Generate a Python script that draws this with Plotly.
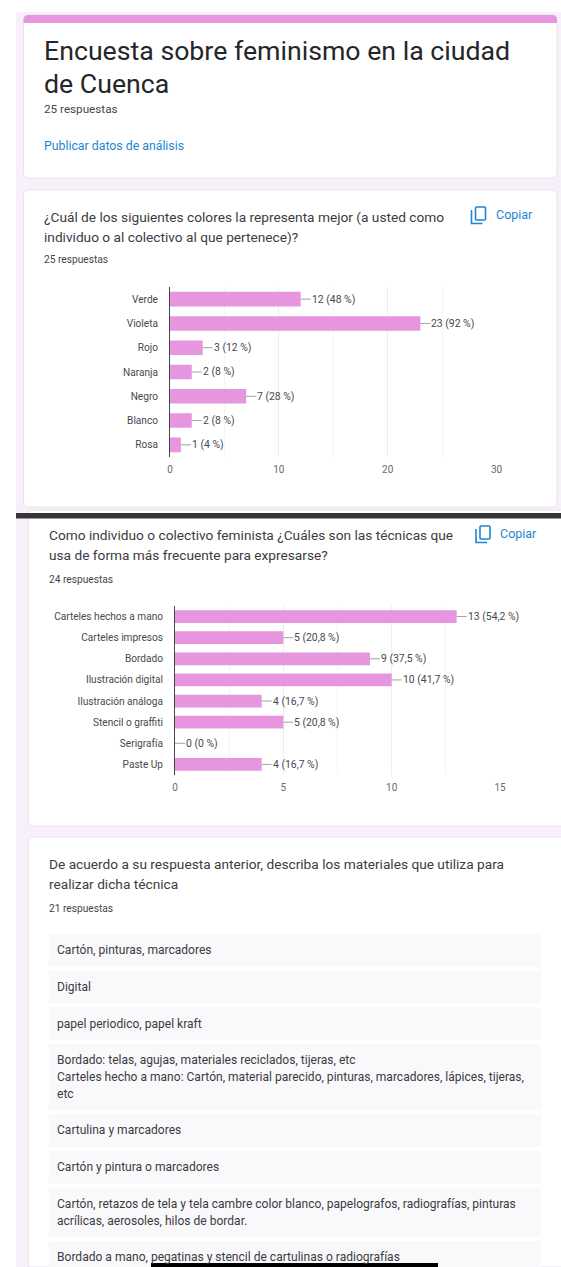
import plotly.graph_objects as go

W, H = 561, 1267

# ---- data ----
q1_categories = ["Verde", "Violeta", "Rojo", "Naranja", "Negro", "Blanco", "Rosa"]
q1_values = [12, 23, 3, 2, 7, 2, 1]
q1_labels = ["12 (48 %)", "23 (92 %)", "3 (12 %)", "2 (8 %)", "7 (28 %)", "2 (8 %)", "1 (4 %)"]
q1_ticks = [0, 10, 20, 30]

q2_categories = ["Carteles hechos a mano", "Carteles impresos", "Bordado", "Ilustración digital",
                 "Ilustración análoga", "Stencil o graffiti", "Serigrafía", "Paste Up"]
q2_values = [13, 5, 9, 10, 4, 5, 0, 4]
q2_labels = ["13 (54,2 %)", "5 (20,8 %)", "9 (37,5 %)", "10 (41,7 %)",
             "4 (16,7 %)", "5 (20,8 %)", "0 (0 %)", "4 (16,7 %)"]
q2_ticks = [0, 5, 10, 15]

title_lines = ["Encuesta sobre feminismo en la ciudad", "de Cuenca"]
q1_title = ["¿Cuál de los siguientes colores la representa mejor (a usted como",
            "individuo o al colectivo al que pertenece)?"]
q2_title = ["Como individuo o colectivo feminista ¿Cuáles son las técnicas que",
            "usa de forma más frecuente para expresarse?"]
q3_title = ["De acuerdo a su respuesta anterior, describa los materiales que utiliza para",
            "realizar dicha técnica"]
answers = [
    ["Cartón, pinturas, marcadores"],
    ["Digital"],
    ["papel periodico, papel kraft"],
    ["Bordado: telas, agujas, materiales reciclados, tijeras, etc",
     "Carteles hecho a mano: Cartón, material parecido, pinturas, marcadores, lápices, tijeras,",
     "etc"],
    ["Cartulina y marcadores"],
    ["Cartón y pintura o marcadores"],
    ["Cartón, retazos de tela y tela cambre color blanco, papelografos, radiografías, pinturas",
     "acrílicas, aerosoles, hilos de bordar."],
    ["Bordado a mano, pegatinas y stencil de cartulinas o radiografías"],
]

# ---- styles ----
PINK = "#E695DF"
PAGE = "#F7F0FA"
BLUE = "#1B87D0"
TEXT = "#3A3C40"
FONT = "Roboto"


def px(x):
    return x / W


def py(y):
    return 1 - y / H


def rounded(x0, y0, x1, y1, r=5):
    return (f"M{px(x0 + r)},{py(y0)} L{px(x1 - r)},{py(y0)} Q{px(x1)},{py(y0)} {px(x1)},{py(y0 + r)} "
            f"L{px(x1)},{py(y1 - r)} Q{px(x1)},{py(y1)} {px(x1 - r)},{py(y1)} "
            f"L{px(x0 + r)},{py(y1)} Q{px(x0)},{py(y1)} {px(x0)},{py(y1 - r)} "
            f"L{px(x0)},{py(y0 + r)} Q{px(x0)},{py(y0)} {px(x0 + r)},{py(y0)} Z")


shapes = []
annots = []


def rect(x0, y0, x1, y1, fill):
    shapes.append(dict(type="rect", xref="paper", yref="paper", layer="below",
                       x0=px(x0), x1=px(x1), y0=py(y1), y1=py(y0), fillcolor=fill,
                       line=dict(width=0)))


def card(x0, y0, x1, y1, r=5):
    shapes.append(dict(type="path", xref="paper", yref="paper", layer="below",
                       path=rounded(x0, y0, x1, y1, r), fillcolor="white",
                       line=dict(width=1, color="#E9E3EC")))


def open_card(x0, y0, y1, r=5):
    """Card that runs off the right edge of the page (and optionally the bottom)."""
    path = (f"M{px(W)},{py(y0)} L{px(x0 + r)},{py(y0)} Q{px(x0)},{py(y0)} {px(x0)},{py(y0 + r)} ")
    if y1 >= H:
        path += f"L{px(x0)},{py(H)} L{px(W)},{py(H)}"
    else:
        path += (f"L{px(x0)},{py(y1 - r)} Q{px(x0)},{py(y1)} {px(x0 + r)},{py(y1)} "
                 f"L{px(W)},{py(y1)}")
    shapes.append(dict(type="path", xref="paper", yref="paper", layer="below",
                       path=path, fillcolor="white", line=dict(width=1, color="#E9E3EC")))


def label(x, y, s, size, color=TEXT, family=FONT, xanchor="left"):
    annots.append(dict(xref="paper", yref="paper", x=px(x), y=py(y), text=s, showarrow=False,
                       xanchor=xanchor, yanchor="middle", align="left",
                       font=dict(size=size, color=color, family=family),
                       borderpad=0, borderwidth=0))


def copy_icon(x, y):
    shapes.append(dict(type="path", xref="paper", yref="paper", layer="above",
                       path=rounded(x + 4, y, x + 14, y + 13, 1), line=dict(width=1.6, color=BLUE)))
    shapes.append(dict(type="path", xref="paper", yref="paper", layer="above",
                       path=f"M{px(x)},{py(y + 3)} L{px(x)},{py(y + 16.5)} L{px(x + 11)},{py(y + 16.5)}",
                       line=dict(width=1.6, color=BLUE)))


# page background and cards
rect(16, 12, W, H, PAGE)
card(23.5, 15, 557, 178)
shapes.append(dict(type="path", xref="paper", yref="paper", layer="below",
                   path=(f"M{px(23.5)},{py(23)} L{px(23.5)},{py(20)} Q{px(23.5)},{py(15)} {px(28.5)},{py(15)} "
                         f"L{px(552)},{py(15)} Q{px(557)},{py(15)} {px(557)},{py(20)} L{px(557)},{py(23)} Z"),
                   fillcolor=PINK, line=dict(width=0)))
card(23.5, 190, 557, 507)
open_card(28.5, 510, 826)
rect(16, 513, W, 518.5, "#36363A")
open_card(28.5, 837, H)

# header
label(44, 51, title_lines[0], 26.7, "#24262A")
label(44, 84, title_lines[1], 26.7, "#24262A")
label(44, 109, "25 respuestas", 11.7, "#44464A")
label(44, 146, "Publicar datos de análisis", 12.3, BLUE)

# question headings
label(44, 217, q1_title[0], 13.7)
label(44, 237, q1_title[1], 13.7)
label(44, 260, "25 respuestas", 10.2, "#44464A")
copy_icon(471.5, 207)
label(495.5, 214.5, "Copiar", 12.5, BLUE)

label(48.7, 535, q2_title[0], 13.7)
label(48.7, 555, q2_title[1], 13.7)
label(48.7, 579, "24 respuestas", 10.2, "#44464A")
copy_icon(476, 526)
label(500, 533, "Copiar", 12.5, BLUE)

label(48.7, 864, q3_title[0], 13.7)
label(48.7, 884, q3_title[1], 13.7)
label(48.7, 908, "21 respuestas", 10.2, "#44464A")

# answers list
y = 934.0
LINE = 16.7
for lines in answers:
    h = 32.7 + LINE * (len(lines) - 1)
    bottom = min(y + h, H)
    rect(48.7, y, 541, bottom, "#F9F9FC")
    for i, s in enumerate(lines):
        label(56.7, y + 16.2 + LINE * i, s, 12.05)
    y += h + 4

rect(151, 1263, 438, H, "#000000")

# ---- charts ----
fig = go.Figure()
fig.add_bar(x=q1_values, y=q1_categories, orientation="h", marker=dict(color=PINK, line=dict(width=0)),
            xaxis="x", yaxis="y", hoverinfo="skip")
fig.add_bar(x=q2_values, y=q2_categories, orientation="h", marker=dict(color=PINK, line=dict(width=0)),
            xaxis="x2", yaxis="y2", hoverinfo="skip")

for xs, cats, labs, xr, yr in [(q1_values, q1_categories, q1_labels, "x", "y"),
                               (q2_values, q2_categories, q2_labels, "x2", "y2")]:
    for v, c, t in zip(xs, cats, labs):
        annots.append(dict(xref=xr, yref=yr, x=v, y=c, text=t, showarrow=True, arrowhead=0,
                           arrowwidth=0.8, arrowcolor="#8A8A8A", ax=10, ay=0, axref="pixel", ayref="pixel",
                           xanchor="left", yanchor="middle", borderpad=0,
                           font=dict(size=10.4, color="#47494D", family=FONT)))


def x_axis(domain, ticks, minor_step, anchor):
    return dict(domain=[px(domain[0]), px(domain[1])], range=[ticks[0], ticks[-1]], anchor=anchor,
                tickmode="array", tickvals=ticks, showgrid=True, gridcolor="#EDEDED", gridwidth=1,
                minor=dict(tick0=0, dtick=minor_step, showgrid=True, gridcolor="#F5F5F5", gridwidth=1),
                zeroline=False, showline=False, ticks="", ticklabelstandoff=5,
                tickfont=dict(size=10, color="#6A6A6A", family=FONT))


def y_axis(top, bottom, n, anchor):
    return dict(domain=[py(bottom), py(top)], range=[n - 0.5, -0.5], anchor=anchor, type="category",
                showgrid=False, zeroline=False, showline=True, linecolor="#44464A", linewidth=1,
                ticks="", ticklabelstandoff=9, tickfont=dict(size=10.1, color="#47494D", family=FONT))


fig.update_layout(
    width=W, height=H, autosize=False, margin=dict(l=0, r=0, t=0, b=0, pad=0, autoexpand=False),
    paper_bgcolor="white", plot_bgcolor="rgba(0,0,0,0)", showlegend=False, bargap=0.4,
    xaxis=x_axis((170, 496.6), q1_ticks, 5, "y"),
    yaxis=y_axis(287, 457, len(q1_categories), "x"),
    xaxis2=x_axis((175, 500), q2_ticks, 2.5, "y2"),
    yaxis2=y_axis(606, 775, len(q2_categories), "x2"),
    shapes=shapes, annotations=annots,
)

fig.write_html("out.html", config=dict(displayModeBar=False),
               post_script="document.body.style.margin='0';")
